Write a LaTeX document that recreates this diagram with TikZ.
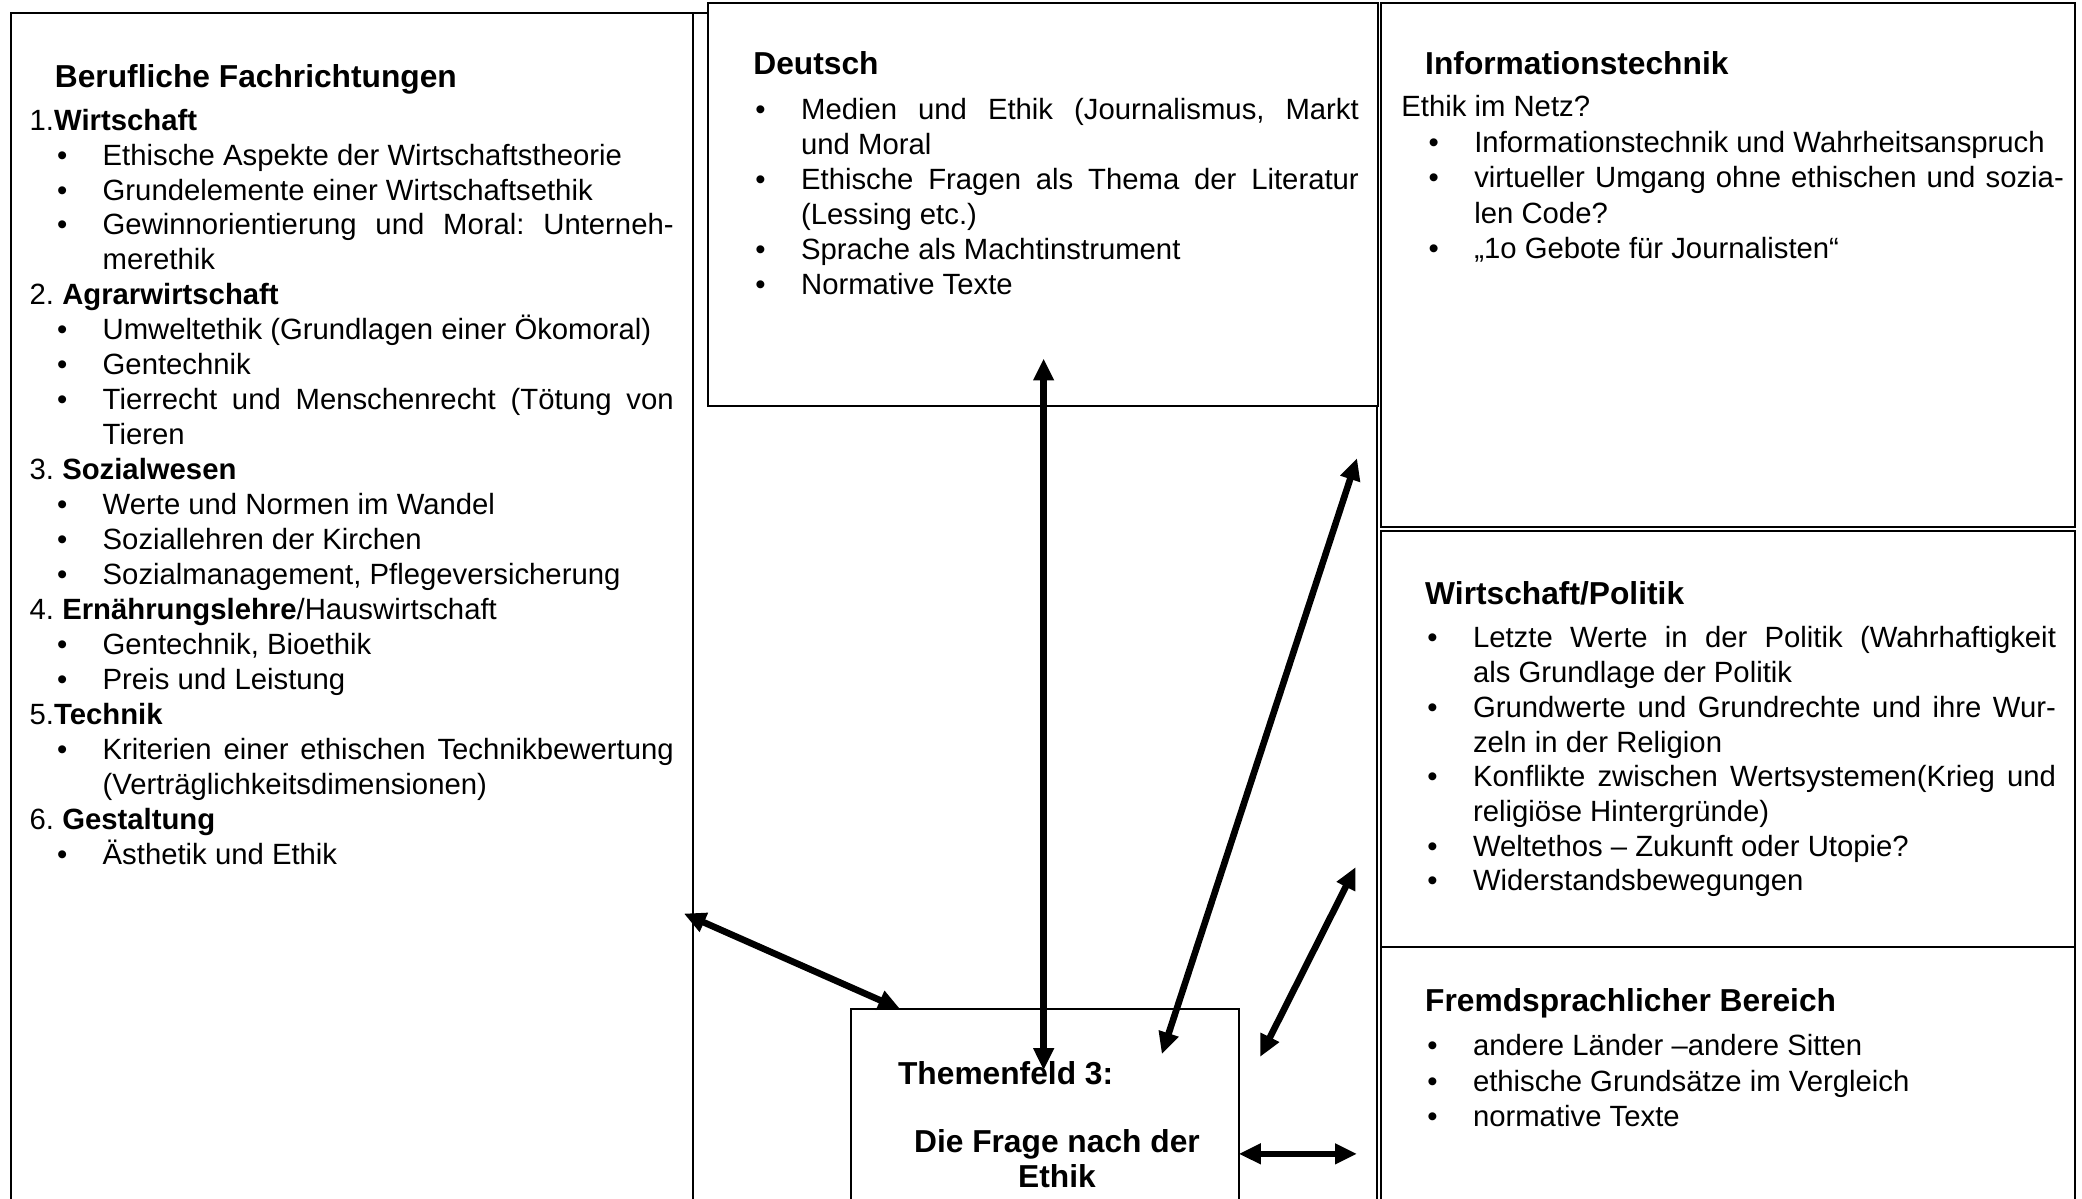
\documentclass[tikz,border=0pt]{standalone}
\usepackage{fontspec}
\setmainfont{Liberation Sans}
\usetikzlibrary{arrows.meta,fit}
\setlength{\parindent}{0pt}
\newlength\hng \setlength\hng{29.92pt}
\newlength\bnd \setlength\bnd{11.2pt}
\newcommand\itm[1]{\noindent\hangindent=\hng\hangafter=1\hspace*{\bnd}\makebox[\dimexpr\hng-\bnd\relax][l]{\textbullet}#1\par}
\newcommand\hd[1]{\noindent #1\par}
\hyphenpenalty=10000
\tolerance=10000
\frenchspacing
\begin{document}
\begin{tikzpicture}[x=0.544pt,y=-0.544pt,
  frame/.style={draw, line width=0.8pt, inner sep=0pt},
  hdtxt/.style={anchor=base west, inner sep=0pt, font=\bfseries\fontsize{13pt}{15pt}\selectfont},
  listtxt/.style={anchor=base west, inner sep=0pt, align=justify},
  conn/.style={{Triangle[length=9pt,width=8pt]}-{Triangle[length=9pt,width=8pt]}, line width=2.7pt}]
\useasboundingbox (0,0) rectangle (1568,903);
\clip (0,0) rectangle (1568,903);
% frames
\node[frame, fit={(8,10) (522,920)}] (leftbox) {};
\node[frame, fit={(522,10) (1037,920)}] (midbox) {};
\node[frame, fill=white, fit={(533,2) (1038,306)}] (deutschbox) {};
\node[frame, fill=white, fit={(1040,2) (1563,397)}] (infobox) {};
\node[frame, fill=white, fit={(1040,400) (1563,713)}] (wpbox) {};
\node[frame, fill=white, fit={(1040,713) (1563,920)}] (fremdbox) {};
\node[frame, fill=white, fit={(641,760) (933,920)}] (themen) {};

% left box
\node[hdtxt] (lefthd) at (41,66) {Berufliche Fachrichtungen};
\node[listtxt, text width=485*0.544pt, font=\fontsize{12pt}{14.32pt}\selectfont] (leftlist) at (22,98) {%
\hd{1.\textbf{Wirtschaft}}
\itm{Ethische Aspekte der Wirtschaftstheorie}
\itm{Grundelemente einer Wirtschaftsethik}
\itm{Gewinnorientierung und Moral: Unterneh-\linebreak merethik}
\hd{2. \textbf{Agrarwirtschaft}}
\itm{Umweltethik (Grundlagen einer Ökomoral)}
\itm{Gentechnik}
\itm{Tierrecht und Menschenrecht (Tötung von\linebreak Tieren}
\hd{3. \textbf{Sozialwesen}}
\itm{Werte und Normen im Wandel}
\itm{Soziallehren der Kirchen}
\itm{Sozialmanagement, Pflegeversicherung}
\hd{4. \textbf{Ernährungslehre}/Hauswirtschaft}
\itm{Gentechnik, Bioethik}
\itm{Preis und Leistung}
\hd{5.\textbf{Technik}}
\itm{Kriterien einer ethischen Technikbewertung\linebreak (Verträglichkeitsdimensionen)}
\hd{6. \textbf{Gestaltung}}
\itm{Ästhetik und Ethik}};

% Deutsch
\node[hdtxt] (deutschhd) at (567,56) {Deutsch};
\node[listtxt, text width=475*0.544pt, font=\fontsize{12pt}{14.36pt}\selectfont] (deutschlist) at (548,90) {%
\itm{Medien und Ethik (Journalismus, Markt\linebreak und Moral}
\itm{Ethische Fragen als Thema der Literatur\linebreak (Lessing etc.)}
\itm{Sprache als Machtinstrument}
\itm{Normative Texte}};

% Informationstechnik
\node[hdtxt] (infohd) at (1073,56) {Informationstechnik};
\node[listtxt, text width=499*0.544pt, font=\fontsize{12pt}{14.55pt}\selectfont] (infolist) at (1055,88) {%
\hd{Ethik im Netz?}
\itm{Informationstechnik und Wahrheitsanspruch}
\itm{virtueller Umgang ohne ethischen und sozia-\linebreak len Code?}
\itm{„1o Gebote für Journalisten“}};

% Wirtschaft/Politik
\node[hdtxt] (wphd) at (1073,455) {Wirtschaft/Politik};
\node[listtxt, text width=494*0.544pt, font=\fontsize{12pt}{14.22pt}\selectfont] (wplist) at (1054,488) {%
\itm{Letzte Werte in der Politik (Wahrhaftigkeit\linebreak als Grundlage der Politik}
\itm{Grundwerte und Grundrechte und ihre Wur-\linebreak zeln in der Religion}
\itm{Konflikte zwischen Wertsystemen(Krieg und\linebreak religiöse Hintergründe)}
\itm{Weltethos – Zukunft oder Utopie?}
\itm{Widerstandsbewegungen}};

% Fremdsprachlicher Bereich
\node[hdtxt] (fremdhd) at (1073,762) {Fremdsprachlicher Bereich};
\node[listtxt, text width=494*0.544pt, font=\fontsize{12pt}{14.6pt}\selectfont] (fremdlist) at (1054,795) {%
\itm{andere Länder –andere Sitten}
\itm{ethische Grundsätze im Vergleich}
\itm{normative Texte}};

% Themenfeld
\node[hdtxt] (t1) at (676,817) {Themenfeld 3:};
\node[hdtxt, anchor=base] (t2) at (796,868) {Die Frage nach der};
\node[hdtxt, anchor=base] (t3) at (796,894) {Ethik};

% connectors
\coordinate (v1) at (786,270); \coordinate (v2) at (786,806);
\coordinate (d1) at (1022,345); \coordinate (d2) at (875,794);
\coordinate (s1) at (1021,653); \coordinate (s2) at (949,796);
\coordinate (h1) at (933,869); \coordinate (h2) at (1022,869);
\coordinate (l1) at (515,688); \coordinate (l2) at (678,760);
\draw[conn] (v1) -- (v2);
\draw[conn] (d1) -- (d2);
\draw[conn] (s1) -- (s2);
\draw[conn] (h1) -- (h2);
\draw[conn] (l1) -- (l2);
\end{tikzpicture}
\end{document}
